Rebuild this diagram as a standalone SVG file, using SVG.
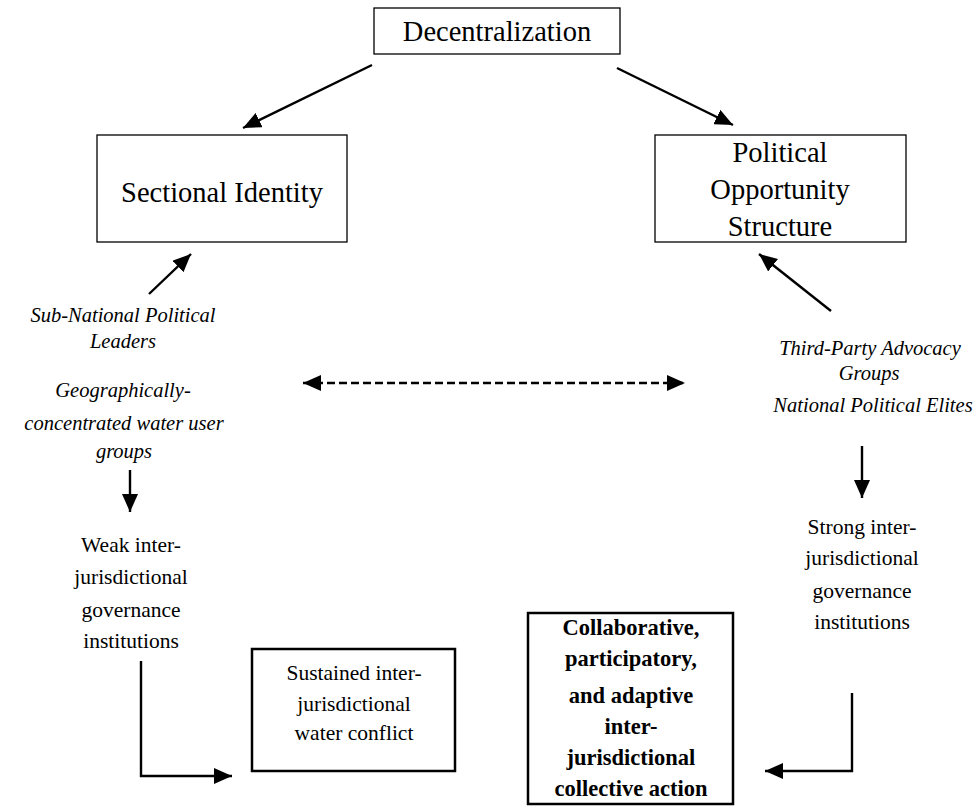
<svg xmlns="http://www.w3.org/2000/svg" width="979" height="808" viewBox="0 0 979 808">
<style>
.box{fill:#fff;stroke:#000;stroke-width:1.3}
.boxb{fill:#fff;stroke:#000;stroke-width:2.5}
.big{font-family:"Liberation Serif","Times New Roman",serif;font-size:28.5px;text-anchor:middle;fill:#000}
.it{font-family:"Liberation Serif","Times New Roman",serif;font-size:20.5px;font-style:italic;text-anchor:middle;fill:#000}
.reg{font-family:"Liberation Serif","Times New Roman",serif;font-size:21.5px;text-anchor:middle;fill:#000}
.bold{font-family:"Liberation Serif","Times New Roman",serif;font-size:22.5px;font-weight:bold;text-anchor:middle;fill:#000}
.ln{fill:none;stroke:#000;stroke-width:2.4}
</style>
<defs>
<marker id="ah" viewBox="0 0 18 16" refX="18" refY="8" markerWidth="18" markerHeight="16" markerUnits="userSpaceOnUse" orient="auto">
<path d="M0,0 L18,8 L0,16 Z" fill="#000"/>
</marker>
<marker id="ahs" viewBox="0 0 18 16" refX="0" refY="8" markerWidth="18" markerHeight="16" markerUnits="userSpaceOnUse" orient="auto">
<path d="M18,0 L0,8 L18,16 Z" fill="#000"/>
</marker>
</defs>

<g id="decentralization">
<rect class="box" x="374" y="8" width="246" height="46"/>
<text class="big" x="497" y="41">Decentralization</text>
</g>

<g id="sectional-identity">
<rect class="box" x="97" y="135" width="250" height="107"/>
<text class="big" x="222" y="202">Sectional Identity</text>
</g>

<g id="political-opportunity">
<rect class="box" x="655" y="135" width="251" height="107"/>
<text class="big" x="780" y="162">Political</text>
<text class="big" x="780" y="199">Opportunity</text>
<text class="big" x="780" y="236">Structure</text>
</g>

<g id="subnational-actors">
<text class="it" x="123" y="322">Sub-National Political</text>
<text class="it" x="123" y="348">Leaders</text>
<text class="it" x="123" y="397">Geographically-</text>
<text class="it" x="124" y="430">concentrated water user</text>
<text class="it" x="124" y="458">groups</text>
</g>

<g id="national-actors">
<text class="it" x="870" y="355">Third-Party Advocacy</text>
<text class="it" x="869" y="380">Groups</text>
<text class="it" x="873" y="412">National Political Elites</text>
</g>

<g id="weak-institutions">
<text class="reg" x="131" y="552">Weak inter-</text>
<text class="reg" x="131" y="584">jurisdictional</text>
<text class="reg" x="131" y="617">governance</text>
<text class="reg" x="131" y="648">institutions</text>
</g>

<g id="strong-institutions">
<text class="reg" x="862" y="534">Strong inter-</text>
<text class="reg" x="862" y="565">jurisdictional</text>
<text class="reg" x="862" y="598">governance</text>
<text class="reg" x="862" y="629">institutions</text>
</g>

<g id="sustained-conflict">
<rect class="boxb" x="252" y="649" width="203" height="122"/>
<text class="reg" x="354" y="680">Sustained inter-</text>
<text class="reg" x="354" y="711">jurisdictional</text>
<text class="reg" x="354" y="740">water conflict</text>
</g>

<g id="collective-action">
<rect class="boxb" x="528" y="613" width="205" height="191"/>
<text class="bold" x="631" y="635">Collaborative,</text>
<text class="bold" x="631" y="666">participatory,</text>
<text class="bold" x="631" y="703">and adaptive</text>
<text class="bold" x="631" y="734">inter-</text>
<text class="bold" x="631" y="765">jurisdictional</text>
<text class="bold" x="631" y="796">collective action</text>
</g>

<g id="connectors">
<line class="ln" x1="372" y1="65" x2="243" y2="128" marker-end="url(#ah)"/>
<line class="ln" x1="617" y1="68" x2="733" y2="125" marker-end="url(#ah)"/>
<line class="ln" x1="149" y1="294" x2="191" y2="254" marker-end="url(#ah)"/>
<line class="ln" x1="831" y1="311" x2="759" y2="254" marker-end="url(#ah)"/>
<line class="ln" x1="303" y1="383" x2="685" y2="383" stroke-dasharray="8,4" marker-start="url(#ahs)" marker-end="url(#ah)"/>
<line class="ln" x1="130" y1="470" x2="130" y2="512" marker-end="url(#ah)"/>
<line class="ln" x1="862" y1="446" x2="862" y2="498" marker-end="url(#ah)"/>
<polyline class="ln" points="141,661 141,776 232,776" marker-end="url(#ah)"/>
<polyline class="ln" points="852,693 852,771 765,771" marker-end="url(#ah)"/>
</g>
</svg>
